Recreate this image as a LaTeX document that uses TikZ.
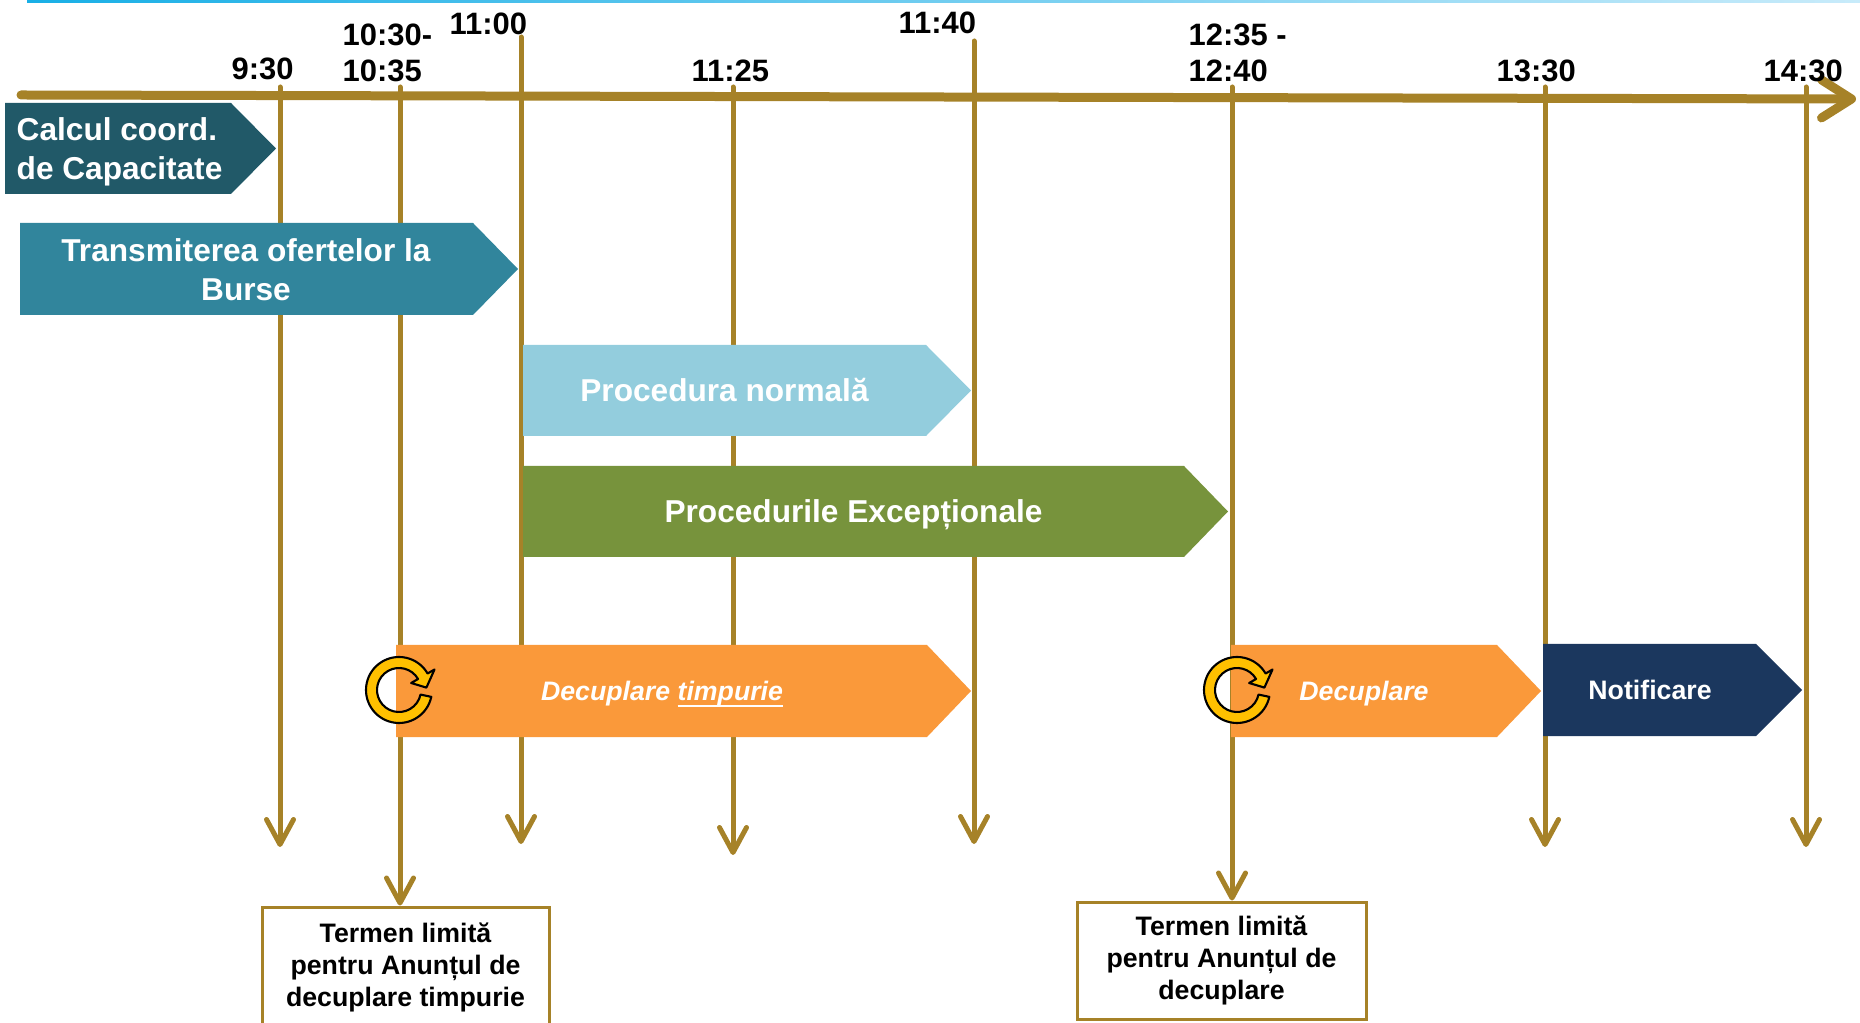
\documentclass[tikz,border=0pt]{standalone}
\usepackage{fontspec}
\setmainfont{Liberation Sans}
\usepackage{xcolor}
\usepackage{tikz}
\usetikzlibrary{arrows.meta, calc}
\definecolor{timeGold}{RGB}{166,130,40}
\definecolor{topBlueA}{RGB}{25,175,230}
\definecolor{topBlueB}{RGB}{200,235,250}
\definecolor{capTeal}{RGB}{33,89,104}
\definecolor{offerTeal}{RGB}{49,133,156}
\definecolor{normBlue}{RGB}{147,205,221}
\definecolor{excGreen}{RGB}{119,147,60}
\definecolor{decOrange}{RGB}{250,153,58}
\definecolor{notifNavy}{RGB}{27,55,94}
\definecolor{syncYellow}{RGB}{255,192,0}
\newcommand\ulword[1]{\setbox0\hbox{#1}\rlap{\rule[-0.24em]{\wd0}{0.07em}}\box0}
\tikzset{
	timelabel/.style={font=\fontsize{8.8}{10.5}\selectfont\bfseries, inner sep=0pt, align=left, anchor=base west},
	phasetext/.style={font=\fontsize{9}{11}\selectfont\bfseries, text=white, inner sep=0pt, align=center},
	smalltext/.style={font=\fontsize{7.6}{9}\selectfont\bfseries, text=white, inner sep=0pt},
	notebox/.style={draw=timeGold, line width=0.03cm, fill=white, align=center, inner sep=0pt,
		font=\fontsize{7.6}{9}\selectfont\bfseries},
	tickline/.style={timeGold, line width=0.05cm, line cap=round},
	tickarrow/.style={tickline, -{Straight Barb[round, length=0.25cm, width=0.27cm]}},
	syncarrow/.pic={
		\filldraw[fill=syncYellow, draw=black, line width=0.6pt, line join=round]
			(-12:0.33) arc[start angle=-12, end angle=-330, radius=0.33] -- (30:0.41) -- (5:0.275)
			-- (30:0.14) -- (30:0.22) arc[start angle=30, end angle=348, radius=0.22] -- cycle;
	}
}
\def\scale{1}

\begin{document}
\begin{tikzpicture}[scale=\scale, line cap = round]
	\useasboundingbox (0,0) rectangle (18.60,-10.23);
	\clip (0,0) rectangle (18.60,-10.23);

	% top rule and time axis
	\shade[left color=topBlueA, right color=topBlueB] (0.27,0) rectangle (18.60,-0.03);
	\draw[timeGold, line width=0.09cm, -{Straight Barb[round, length=0.3cm, width=0.38cm]}] (0.21,-0.95) -- (18.56,-0.99);

	% tick start points
	\coordinate (t0930) at (2.80,-0.87);
	\coordinate (t1035) at (4.00,-0.87);
	\coordinate (t1100) at (5.21,-0.37);
	\coordinate (t1125) at (7.33,-0.87);
	\coordinate (t1140) at (9.74,-0.41);
	\coordinate (t1240) at (12.32,-0.87);
	\coordinate (t1330) at (15.45,-0.87);
	\coordinate (t1430) at (18.06,-0.87);

	% tick end points
	\coordinate (e0930) at (2.80,-8.47);
	\coordinate (e1100) at (5.21,-8.44);
	\coordinate (e1125) at (7.33,-8.55);
	\coordinate (e1140) at (9.74,-8.44);
	\coordinate (e1330) at (15.45,-8.47);
	\coordinate (e1430) at (18.06,-8.47);

	\node[timelabel] (l0930) at (2.31,-0.80) {9:30};
	\node[timelabel] (l1035) at (3.42,-0.82) {10:30-\\10:35};
	\node[timelabel] (l1100) at (4.49,-0.35) {11:00};
	\node[timelabel] (l1125) at (6.91,-0.82) {11:25};
	\node[timelabel] (l1140) at (8.98,-0.34) {11:40};
	\node[timelabel] (l1240) at (11.88,-0.82) {12:35 -\\12:40};
	\node[timelabel] (l1330) at (14.96,-0.82) {13:30};
	\node[timelabel] (l1430) at (17.63,-0.82) {14:30};

	% deadline boxes
	\node[notebox, minimum width=2.87cm, minimum height=1.21cm] (note1) at (4.055,-9.675)
		{Termen limită\\pentru Anunțul de\\decuplare timpurie};
	\node[notebox, minimum width=2.89cm, minimum height=1.17cm] (note2) at (12.215,-9.605)
		{Termen limită\\pentru Anunțul de\\decuplare};

	% vertical ticks
	\draw[tickarrow] (t0930) -- (e0930);
	\draw[tickarrow] (t1035) -- (t1035 |- note1.north);
	\draw[tickarrow] (t1100) -- (e1100);
	\draw[tickarrow] (t1125) -- (e1125);
	\draw[tickarrow] (t1140) -- (e1140);
	\draw[tickarrow] (t1240) -- (t1240 |- note2.north);
	\draw[tickarrow] (t1330) -- (e1330);
	\draw[tickarrow] (t1430) -- (e1430);

	% phases
	\fill[capTeal] (0.05,-1.03) -- (2.31,-1.03) -- (2.76,-1.485) -- (2.31,-1.94) -- (0.05,-1.94) -- cycle;
	\node[phasetext, align=left, anchor=west] (capcalc) at (0.16,-1.52) {Calcul coord.\\de Capacitate};

	\fill[offerTeal] (0.20,-2.23) -- (4.73,-2.23) -- (5.18,-2.69) -- (4.73,-3.15) -- (0.20,-3.15) -- cycle;
	\node[phasetext] (offers) at (2.46,-2.70) {Transmiterea ofertelor la\\Burse};

	\fill[normBlue] (5.23,-3.45) -- (9.26,-3.45) -- (9.71,-3.905) -- (9.26,-4.36) -- (5.23,-4.36) -- cycle;
	\node[phasetext] (normal) at (7.245,-3.905) {Procedura normală};

	\fill[excGreen] (5.23,-4.66) -- (11.84,-4.66) -- (12.28,-5.115) -- (11.84,-5.57) -- (5.23,-5.57) -- cycle;
	\node[phasetext] (except) at (8.535,-5.145) {Procedurile Excepționale};

	\fill[decOrange] (3.96,-6.45) -- (9.27,-6.45) -- (9.71,-6.91) -- (9.27,-7.37) -- (3.96,-7.37) -- cycle;
	\node[smalltext] (earlydec) at (6.62,-6.94) {\itshape Decuplare \ulword{timpurie}};

	\fill[decOrange] (12.31,-6.45) -- (14.97,-6.45) -- (15.41,-6.91) -- (14.97,-7.37) -- (12.31,-7.37) -- cycle;
	\node[smalltext] (decoupling) at (13.64,-6.94) {\itshape Decuplare};

	\fill[notifNavy] (15.43,-6.44) -- (17.56,-6.44) -- (18.02,-6.90) -- (17.56,-7.36) -- (15.43,-7.36) -- cycle;
	\node[smalltext] (notif) at (16.50,-6.90) {Notificare};

	% sync icons
	\pic at (3.99,-6.90) {syncarrow};
	\pic at (12.37,-6.90) {syncarrow};

\end{tikzpicture}
\end{document}
